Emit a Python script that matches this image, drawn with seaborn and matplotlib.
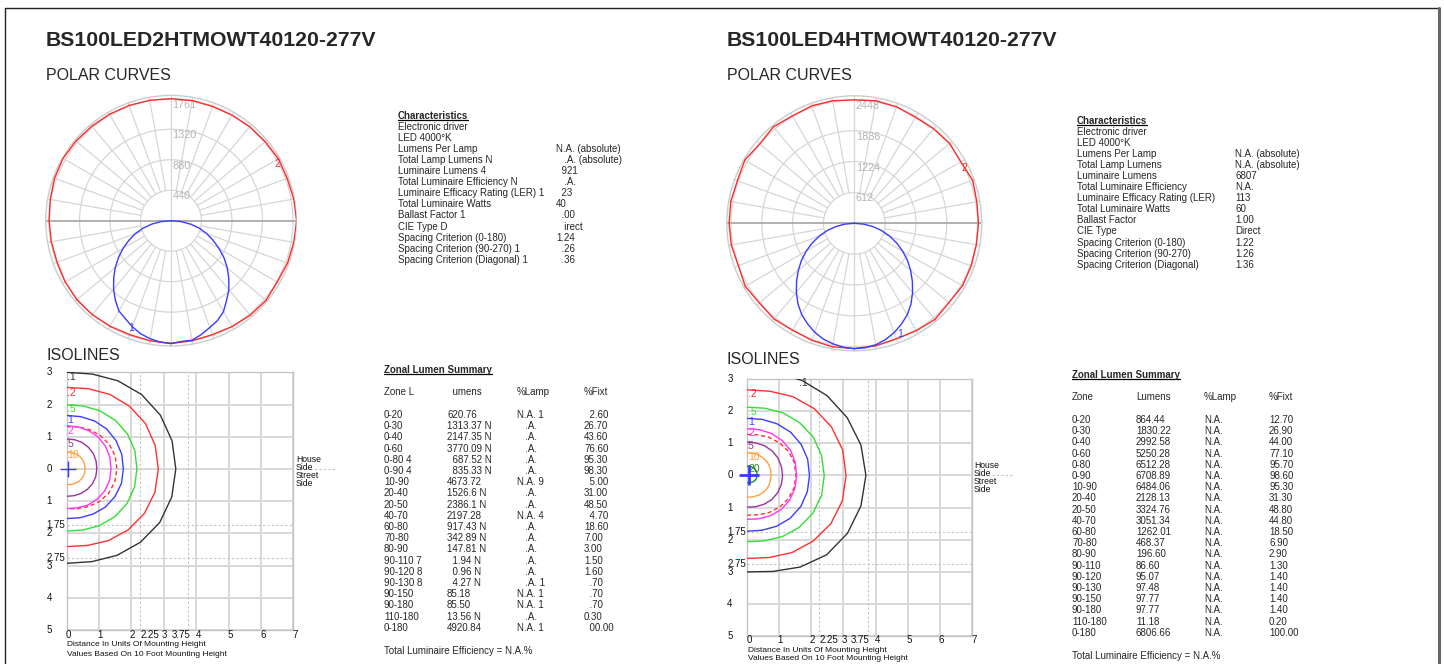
import numpy as np
import matplotlib
matplotlib.use("Agg")
import matplotlib.pyplot as plt
import seaborn as sns
from matplotlib.lines import Line2D
from matplotlib.transforms import ScaledTranslation, blended_transform_factory

# ---------------- data ----------------
titles = ["BS100LED2HTMOWT40120-277V", "BS100LED4HTMOWT40120-277V"]

# polar curves, candela vs angle from nadir (deg, + = right hand side)
red_ang = list(range(0, 361, 10))
left_red_cd = [1771, 1760, 1750, 1765, 1780, 1790, 1770, 1790, 1800, 1815, 1800, 1785,
               1790, 1775, 1770, 1760, 1755, 1761, 1761, 1765, 1770, 1775, 1780, 1790,
               1800, 1790, 1770, 1760, 1755, 1750, 1765, 1775, 1770, 1760, 1750, 1760, 1771]
right_red_cd = [2485, 2470, 2440, 2460, 2490, 2450, 2480, 2470, 2460, 2465, 2470, 2500,
                2440, 2470, 2450, 2430, 2460, 2470, 2450, 2470, 2480, 2460, 2500, 2450,
                2510, 2470, 2490, 2485, 2480, 2450, 2500, 2460, 2480, 2450, 2470, 2490, 2485]
blue_ang = list(range(-90, 91, 5))
left_blue_cd = [0, 140, 280, 420, 550, 670, 800, 925, 1050, 1170, 1290, 1400, 1505, 1560,
                1630, 1690, 1730, 1760, 1775, 1750, 1752, 1700, 1640, 1590, 1515, 1400,
                1300, 1180, 1060, 935, 800, 670, 550, 430, 290, 145, 0]
right_blue_cd = [0, 190, 370, 560, 740, 920, 1100, 1280, 1450, 1620, 1790, 1950, 2090,
                 2200, 2300, 2380, 2430, 2470, 2490, 2480, 2450, 2390, 2310, 2210, 2100,
                 1960, 1800, 1630, 1460, 1290, 1110, 930, 750, 565, 375, 190, 0]
left_rings = [440, 880, 1320, 1761]
right_rings = [612, 1224, 1836, 2448]

# characteristics
char_head = ["Electronic driver", "LED 4000°K"]
char_labels_l = ["Lumens Per Lamp", "Total Lamp Lumens N", "Luminaire Lumens 4",
                 "Total Luminaire Efficiency N", "Luminaire Efficacy Rating (LER) 1",
                 "Total Luminaire Watts", "Ballast Factor 1", "CIE Type D",
                 "Spacing Criterion (0-180)", "Spacing Criterion (90-270) 1",
                 "Spacing Criterion (Diagonal) 1"]
char_values_l = ["N.A. (absolute)", "   .A. (absolute)", "  921", "   .A.", "  23", "40",
                 "  .00", "   irect", "1.24", "  .26", "  .36"]
char_labels_r = ["Lumens Per Lamp", "Total Lamp Lumens", "Luminaire Lumens",
                 "Total Luminaire Efficiency", "Luminaire Efficacy Rating (LER)",
                 "Total Luminaire Watts", "Ballast Factor", "CIE Type",
                 "Spacing Criterion (0-180)", "Spacing Criterion (90-270)",
                 "Spacing Criterion (Diagonal)"]
char_values_r = ["N.A. (absolute)", "N.A. (absolute)", "6807", "N.A.", "113", "60",
                 "1.00", "Direct", "1.22", "1.26", "1.36"]

# zonal lumen summary
zone_hdr_l = ["Zone L", "  umens", "%Lamp", "%Fixt"]
zones_l = ["0-20", "0-30", "0-40", "0-60", "0-80 4", "0-90 4", "10-90", "20-40", "20-50",
           "40-70", "60-80", "70-80", "80-90", "90-110 7", "90-120 8", "90-130 8",
           "90-150", "90-180", "110-180", "0-180"]
lumens_l = ["620.76", "1313.37 N", "2147.35 N", "3770.09 N", "  687.52 N", "  835.33 N",
            "4673.72", "1526.6 N", "2386.1 N", "2197.28", "917.43 N", "342.89 N",
            "147.81 N", "  1.94 N", "  0.96 N", "  4.27 N", "85.18", "85.50", "13.56 N",
            "4920.84"]
lamp_l = ["N.A. 1", "   .A.", "   .A.", "   .A.", "   .A.", "   .A.", "N.A. 9", "   .A.",
          "   .A.", "N.A. 4", "   .A.", "   .A.", "   .A.", "   .A.", "   .A.", "   .A. 1",
          "N.A. 1", "N.A. 1", "   .A.", "N.A. 1"]
fixt_l = ["  2.60", "26.70", "43.60", "76.60", "95.30", "98.30", "  5.00", "31.00", "48.50",
          "  4.70", "18.60", "7.00", "3.00", "1.50", "1.60", "  .70", "  .70", "  .70",
          "0.30", "  00.00"]
zone_hdr_r = ["Zone", "Lumens", "%Lamp", "%Fixt"]
zones_r = ["0-20", "0-30", "0-40", "0-60", "0-80", "0-90", "10-90", "20-40", "20-50",
           "40-70", "60-80", "70-80", "80-90", "90-110", "90-120", "90-130", "90-150",
           "90-180", "110-180", "0-180"]
lumens_r = ["864.44", "1830.22", "2992.58", "5250.28", "6512.28", "6708.89", "6484.06",
            "2128.13", "3324.76", "3051.34", "1262.01", "468.37", "196.60", "86.60",
            "95.07", "97.48", "97.77", "97.77", "11.18", "6806.66"]
lamp_r = ["N.A."] * 20
fixt_r = ["12.70", "26.90", "44.00", "77.10", "95.70", "98.60", "95.30", "31.30", "48.80",
          "44.80", "18.50", "6.90", "2.90", "1.30", "1.40", "1.40", "1.40", "1.40", "0.20",
          "100.00"]

# isolines: radius (mounting heights) at angle from the +x axis
iso_ang = [90, 75, 60, 45, 30, 15, 0, -15, -30, -45, -60, -75, -90]
l_p1 = [3.00, 3.05, 3.16, 3.27, 3.34, 3.37, 3.37, 3.36, 3.32, 3.22, 3.10, 2.98, 2.93]
l_p2 = [2.53, 2.58, 2.67, 2.75, 2.81, 2.83, 2.83, 2.82, 2.77, 2.68, 2.57, 2.46, 2.41]
l_p5 = [1.99, 2.02, 2.08, 2.13, 2.17, 2.18, 2.17, 2.17, 2.15, 2.10, 2.03, 1.96, 1.93]
l_1 = [1.66, 1.68, 1.72, 1.75, 1.76, 1.76, 1.75, 1.75, 1.72, 1.68, 1.62, 1.57, 1.54]
l_half = [1.32, 1.35, 1.41, 1.47, 1.52, 1.55, 1.55, 1.54, 1.50, 1.43, 1.35, 1.28, 1.24]
l_2 = [1.34, 1.35, 1.37, 1.39, 1.39, 1.38, 1.37, 1.37, 1.36, 1.33, 1.30, 1.25, 1.23]
l_5 = [0.93, 0.94, 0.95, 0.95, 0.95, 0.94, 0.93, 0.93, 0.92, 0.90, 0.88, 0.86, 0.85]
l_10 = [0.52, 0.53, 0.54, 0.56, 0.57, 0.57, 0.57, 0.57, 0.56, 0.54, 0.52, 0.50, 0.49]
r_p1 = [3.30, 3.33, 3.42, 3.52, 3.60, 3.67, 3.70, 3.67, 3.61, 3.50, 3.30, 3.10, 3.01]
r_p2 = [2.67, 2.72, 2.84, 2.95, 3.03, 3.08, 3.08, 3.07, 3.01, 2.90, 2.78, 2.65, 2.59]
r_p5 = [2.13, 2.17, 2.25, 2.32, 2.38, 2.40, 2.40, 2.40, 2.36, 2.29, 2.20, 2.11, 2.07]
r_1 = [1.78, 1.81, 1.86, 1.91, 1.94, 1.95, 1.94, 1.94, 1.93, 1.89, 1.83, 1.77, 1.74]
r_half = [1.28, 1.31, 1.37, 1.43, 1.49, 1.52, 1.52, 1.51, 1.47, 1.41, 1.34, 1.27, 1.24]
r_2 = [1.46, 1.48, 1.51, 1.54, 1.56, 1.55, 1.54, 1.54, 1.53, 1.50, 1.45, 1.40, 1.37]
r_5 = [1.04, 1.05, 1.07, 1.09, 1.10, 1.10, 1.10, 1.10, 1.09, 1.07, 1.04, 1.01, 0.99]
r_10 = [0.71, 0.72, 0.73, 0.74, 0.75, 0.75, 0.74, 0.74, 0.74, 0.73, 0.71, 0.69, 0.68]
r_20 = [0.29, 0.30, 0.30, 0.31, 0.31, 0.31, 0.31, 0.30, 0.29, 0.27, 0.25, 0.24, 0.23]
iso_names_l = [".1", ".2", ".5", "1", "", "2", "5", "10"]
iso_names_r = [".1", ".2", ".5", "1", "", "2", "5", "10", "20"]
lum_x, lum_y = [0.04], [0.0]

iso_xticks = [0, 1, 2, 2.25, 3, 3.75, 4, 5, 6, 7]
iso_xlabels = ["0", "1", "2", "2.25", "3", "3.75", "4", "5", "6", "7"]
iso_yticks = [3, 2, 1, 0, -1, -1.75, -2, -2.75, -3, -4, -5]
iso_ylabels = ["3", "2", "1", "0", "1", "1.75", "2", "2.75", "3", "4", "5"]

# ---------------- styling ----------------
W, H = 1444, 664
sns.set_theme(style="white")
plt.rcParams["font.family"] = ["Liberation Sans", "DejaVu Sans"]
INK = "#111111"
ISO_COLORS_L = ["#333333", "#ff3030", "#33dd33", "#3c3cff", "#ff3030", "#ff33ff", "#993399", "#ffa040"]
ISO_COLORS_R = ISO_COLORS_L + ["#228822"]
ISO_STYLES_L = ["-", "-", "-", "-", (0, (3, 2)), "-", "-", "-"]
ISO_STYLES_R = ISO_STYLES_L + ["-"]

fig = plt.figure(figsize=(W / 100, H / 100), dpi=100)
fig.patch.set_facecolor("white")


def fx(px):
    return px / W


def fy(py):
    return 1 - py / H


def put(px, py, s, **kw):
    kw.setdefault("va", "center")
    kw.setdefault("ha", "left")
    return fig.text(fx(px), fy(py), s, **kw)


def underline(t):
    bb = t.get_window_extent(renderer=fig.canvas.get_renderer())
    y = (bb.y0 + 1.5) / H
    fig.add_artist(Line2D([bb.x0 / W, bb.x1 / W], [y, y], color="black", lw=0.9))


def polar_panel(cx, cy, rpx, rings, rmax, red_cd, blue_cd, lab_red, lab_blue):
    ax = fig.add_axes([fx(cx - rpx), fy(cy + rpx), 2 * rpx / W, 2 * rpx / H],
                      projection="polar")
    ax.set_theta_zero_location("S")
    ax.grid(False)
    ax.set_xticks([])
    ax.set_yticks([])
    ax.spines["polar"].set_color("#cccccc")
    ax.spines["polar"].set_linewidth(1.0)
    circ = np.linspace(0, 2 * np.pi, 241)
    for r in rings:
        ax.plot(circ, np.full(circ.size, r), color="#d6d6d6", lw=0.9, zorder=1)
    for a in range(0, 360, 10):
        t = np.deg2rad(a)
        if a in (90, 270):
            ax.plot([t, t], [0, rmax], color="#a9a9a9", lw=1.3, zorder=1)
        elif a in (0, 180):
            ax.plot([t, t], [0, rmax], color="#d6d6d6", lw=0.9, zorder=1)
        else:
            ax.plot([t, t], [rings[0], rmax], color="#d6d6d6", lw=0.9, zorder=1)
    off = ax.transData + ScaledTranslation(0.015, -0.01, fig.dpi_scale_trans)
    for r in rings:
        ax.text(np.pi, r, str(r), transform=off, ha="left", va="top",
                fontsize=7.8, color="#b4b4b4", zorder=2)
    sns.lineplot(x=np.deg2rad(red_ang), y=red_cd, sort=False, estimator=None,
                 color="#ff2a2a", linewidth=1.0, ax=ax, zorder=3)
    sns.lineplot(x=np.deg2rad(blue_ang), y=blue_cd, sort=False, estimator=None,
                 color="#3a3aff", linewidth=1.0, ax=ax, zorder=3)
    ax.text(np.deg2rad(lab_red[0]), lab_red[1], "2", color="#ff2a2a", fontsize=7.5,
            ha="center", va="center", zorder=4)
    ax.text(np.deg2rad(lab_blue[0]), lab_blue[1], "1", color="#3a3aff", fontsize=7.5,
            ha="center", va="center", zorder=4)
    ax.set_ylim(0, rmax)
    ax.set_xlabel("")
    ax.set_ylabel("")


def iso_panel(x0, x1, y0, y1, curves, colors, styles, names, lab_x, lab_y,
              cross_s, cross_lw, dash_x0, xlab_dy):
    ax = fig.add_axes([fx(x0), fy(y1), (x1 - x0) / W, (y1 - y0) / H])
    ax.set_xlim(0, 7)
    ax.set_ylim(-5, 3)
    ax.set_xticks([])
    ax.set_yticks([])
    for s in ax.spines.values():
        s.set_color("#c4c4c4")
        s.set_linewidth(1.0)
    for v in range(0, 8):
        ax.axvline(v, color="#d8d8d8", lw=1.4, zorder=1)
    for v in range(-5, 4):
        ax.axhline(v, color="#d8d8d8", lw=1.4, zorder=1)
    for v in (2.25, 3.75):
        ax.axvline(v, color="#c4c4c4", lw=0.8, ls=(0, (2, 2)), zorder=1)
    for v in (-1.75, -2.75):
        ax.axhline(v, color="#c4c4c4", lw=0.8, ls=(0, (2, 2)), zorder=1)
    ax.plot([dash_x0, 8.3], [0, 0], color="#c4c4c4", lw=0.8, ls=(0, (2, 2)),
            clip_on=False)
    th = np.deg2rad(iso_ang)
    for r, c, ls in zip(curves, colors, styles):
        r = np.asarray(r)
        sns.lineplot(x=r * np.cos(th), y=r * np.sin(th), sort=False, estimator=None,
                     color=c, linewidth=1.0, ax=ax, zorder=3)
        ax.lines[-1].set_linestyle(ls)
    for name, c, lx, ly in zip(names, colors, lab_x, lab_y):
        if name:
            ax.text(lx, ly, name, color=c, fontsize=7.5, ha="left", va="center", zorder=4)
    sns.scatterplot(x=lum_x, y=lum_y, marker="+", s=cross_s, color="#3a3aff",
                    linewidth=cross_lw, ax=ax, clip_on=False, zorder=5, legend=False)
    ax.set_xlabel("")
    ax.set_ylabel("")
    # tick labels
    xdx = [2, 1, 1, 10, 1, -7, 2, 2, 2, 2]
    tx = blended_transform_factory(ax.transData, ax.transAxes)
    for v, s, d in zip(iso_xticks, iso_xlabels, xdx):
        ax.text(v, 0, s, transform=tx + ScaledTranslation(d / 100, -xlab_dy / 100, fig.dpi_scale_trans),
                ha="center", va="center", fontsize=7, color=INK)
    ty = blended_transform_factory(ax.transAxes, ax.transData)
    for v, s in zip(iso_yticks, iso_ylabels):
        ax.text(0, v, s, transform=ty + ScaledTranslation(-0.20, 0, fig.dpi_scale_trans),
                ha="left", va="center", fontsize=7, color=INK)
    return ax


# ---------------- frame ----------------
fig.add_artist(Line2D([fx(5), fx(1439)], [fy(8), fy(8)], color="#222222", lw=1.0))
fig.add_artist(Line2D([fx(5), fx(5)], [fy(8), 0], color="#222222", lw=1.0))
fig.add_artist(Line2D([fx(1439), fx(1439)], [fy(8), 0], color="#666666", lw=2.2))

# ---------------- headings ----------------
put(46, 40, titles[0], fontsize=15.3, fontweight="bold")
put(727, 40, titles[1], fontsize=15.3, fontweight="bold")
put(46, 76, "POLAR CURVES", fontsize=11.5)
put(727, 76, "POLAR CURVES", fontsize=11.5)
put(46, 355, "ISOLINES", fontsize=11.5)
put(727, 360, "ISOLINES", fontsize=11.5)

# ---------------- polar ----------------
polar_panel(171, 220.7, 125.3, left_rings, 1809, left_red_cd, left_blue_cd,
            (118, 1735), (-20.6, 1654))
polar_panel(854.3, 223.3, 127.5, right_rings, 2531, right_red_cd, right_blue_cd,
            (116.6, 2442), (22.6, 2370))

# ---------------- characteristics ----------------
for (x, y0, labels, values) in [(398, 116, char_labels_l, char_values_l),
                                (1077, 121, char_labels_r, char_values_r)]:
    t = put(x, y0, "Characteristics", fontsize=7, fontweight="bold")
    underline(t)
    rows = [(h, "") for h in char_head] + list(zip(labels, values))
    for i, (lab, val) in enumerate(rows):
        y = y0 + (i + 1) * 11.05
        put(x, y, lab, fontsize=7)
        if val:
            put(x + 158, y, val, fontsize=7)

# ---------------- zonal lumen summary ----------------
for (cols, y0, hdr, z, lu, la, fi) in [
        ([384, 447, 517, 584], 370, zone_hdr_l, zones_l, lumens_l, lamp_l, fixt_l),
        ([1072, 1136, 1204, 1269], 375, zone_hdr_r, zones_r, lumens_r, lamp_r, fixt_r)]:
    t = put(cols[0], y0, "Zonal Lumen Summary", fontsize=7, fontweight="bold")
    underline(t)
    for cx, h in zip(cols, hdr):
        put(cx, y0 + 22, h, fontsize=7)
    for i, row in enumerate(zip(z, lu, la, fi)):
        for cx, s in zip(cols, row):
            put(cx, y0 + 45 + i * 11.2, s, fontsize=7)
    put(cols[0], y0 + 281, "Total Luminaire Efficiency = N.A.%", fontsize=7)

# ---------------- isolines ----------------
iso_panel(66.7, 293.3, 372.3, 630, [l_p1, l_p2, l_p5, l_1, l_half, l_2, l_5, l_10],
          ISO_COLORS_L, ISO_STYLES_L, iso_names_l,
          [0.02] * 8, [2.85, 2.37, 1.86, 1.53, 0, 1.19, 0.78, 0.44],
          130, 1.0, 7.52, 5)
iso_panel(747.3, 971.7, 379.3, 635.7,
          [r_p1, r_p2, r_p5, r_1, r_half, r_2, r_5, r_10, r_20],
          ISO_COLORS_R, ISO_STYLES_R, iso_names_r,
          [1.6, 0.02, 0.02, 0.02, 0, 0.02, 0.02, 0.02, 0.02],
          [2.87, 2.53, 1.98, 1.67, 0, 1.33, 0.92, 0.58, 0.19],
          190, 2.0, 7.63, 4.5)

for x, ys in [(296, [459, 467, 475, 483]), (974, [465, 473, 481, 489])]:
    for y, s in zip(ys, ["House", "Side", "Street", "Side"]):
        put(x, y, s, fontsize=6.2, color=INK)

for x, ys in [(67, [645, 654]), (748, [650, 659])]:
    put(x, ys[0], "Distance In Units Of Mounting Height", fontsize=6, color=INK)
    put(x, ys[1], "Values Based On 10 Foot Mounting Height", fontsize=6, color=INK)

fig.savefig("out.png", dpi=100, facecolor="white")
